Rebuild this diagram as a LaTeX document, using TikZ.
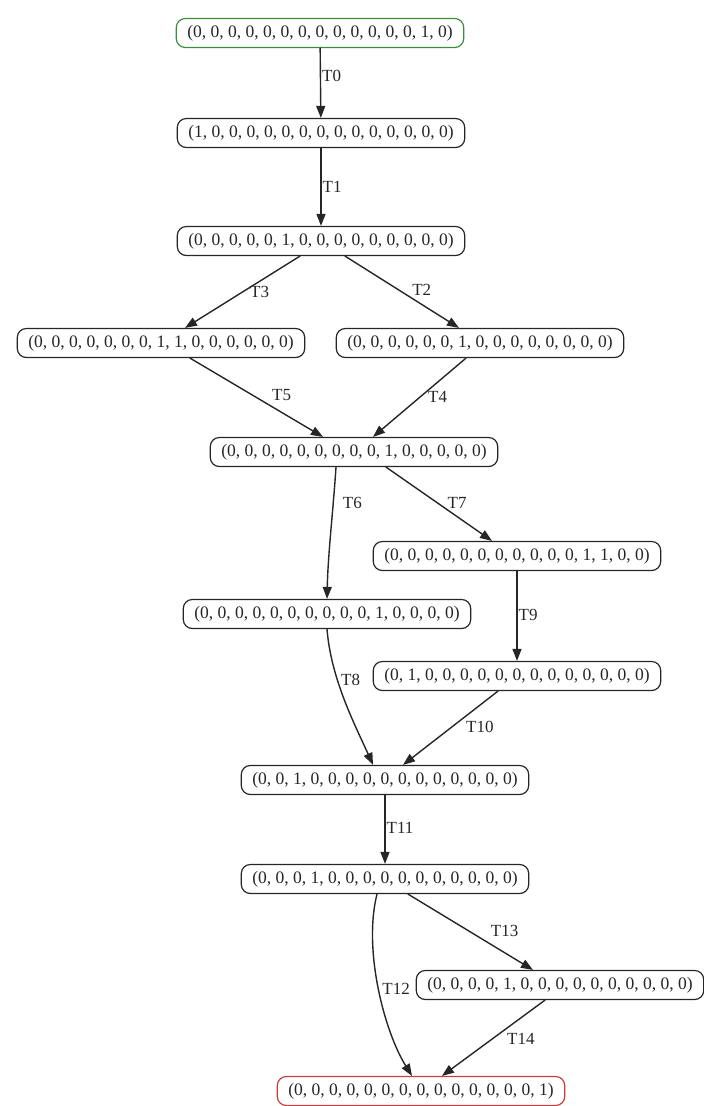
\documentclass[tikz,border=0pt]{standalone}
\usepackage{fontspec}
\setmainfont{Liberation Serif}
\usetikzlibrary{arrows.meta}

\begin{document}
\begin{tikzpicture}[x=1pt, y=-1pt, >={Triangle[length=12pt,width=9pt]}, line cap=round,
  state/.style={draw=black!85, line width=1.2pt, rounded corners=9pt, minimum height=29pt,
                inner xsep=11pt, text=black!85, font=\fontsize{17.5}{20}\selectfont},
  edge/.style={->, line width=1.4pt, black!85},
  lbl/.style={anchor=west, inner sep=1pt, text=black!85, font=\fontsize{17}{20}\selectfont}]
  \definecolor{startgreen}{HTML}{3C8C3C}
  \definecolor{endred}{HTML}{C83C3C}
  \useasboundingbox (0,0) rectangle (704,1106);
  % markings
  \node[state, draw=startgreen] (m0)  at (320,33)  {(0, 0, 0, 0, 0, 0, 0, 0, 0, 0, 0, 0, 0, 1, 0)};
  \node[state] (m1)  at (321,133) {(1, 0, 0, 0, 0, 0, 0, 0, 0, 0, 0, 0, 0, 0, 0)};
  \node[state] (m2)  at (321,241) {(0, 0, 0, 0, 0, 1, 0, 0, 0, 0, 0, 0, 0, 0, 0)};
  \node[state] (m3)  at (161,343) {(0, 0, 0, 0, 0, 0, 0, 1, 1, 0, 0, 0, 0, 0, 0)};
  \node[state] (m4)  at (480,343) {(0, 0, 0, 0, 0, 0, 1, 0, 0, 0, 0, 0, 0, 0, 0)};
  \node[state] (m5)  at (354,452) {(0, 0, 0, 0, 0, 0, 0, 0, 0, 1, 0, 0, 0, 0, 0)};
  \node[state] (m6)  at (517,556) {(0, 0, 0, 0, 0, 0, 0, 0, 0, 0, 0, 1, 1, 0, 0)};
  \node[state] (m7)  at (327,614) {(0, 0, 0, 0, 0, 0, 0, 0, 0, 0, 1, 0, 0, 0, 0)};
  \node[state] (m8)  at (517,676) {(0, 1, 0, 0, 0, 0, 0, 0, 0, 0, 0, 0, 0, 0, 0)};
  \node[state] (m9)  at (385,780) {(0, 0, 1, 0, 0, 0, 0, 0, 0, 0, 0, 0, 0, 0, 0)};
  \node[state] (m10) at (385,879) {(0, 0, 0, 1, 0, 0, 0, 0, 0, 0, 0, 0, 0, 0, 0)};
  \node[state] (m11) at (560,985) {(0, 0, 0, 0, 1, 0, 0, 0, 0, 0, 0, 0, 0, 0, 0)};
  \node[state, draw=endred] (m12) at (421,1091) {(0, 0, 0, 0, 0, 0, 0, 0, 0, 0, 0, 0, 0, 0, 1)};
  % transitions
  \draw[edge] (m0) -- (m1) node[lbl, pos=0.4] {T0};
  \draw[edge] (m1) -- (m2) node[lbl, pos=0.5] {T1};
  \draw[edge] ([xshift=-21pt]m2.south) -- ([xshift=24pt]m3.north) node[lbl, pos=0.5, xshift=6pt] {T3};
  \draw[edge] ([xshift=24pt]m2.south) -- ([xshift=-21pt]m4.north) node[lbl, pos=0.47, xshift=12pt] {T2};
  \draw[edge] ([xshift=29pt]m3.south) -- ([xshift=-31pt]m5.north) node[lbl, pos=0.47, xshift=18pt] {T5};
  \draw[edge] ([xshift=-14pt]m4.south) -- ([xshift=19pt]m5.north) node[lbl, pos=0.49, xshift=6pt] {T4};
  \draw[edge] ([xshift=-18pt]m5.south) .. controls +(-3,45) and +(1,-45) .. (m7.north) node[lbl, pos=0.27, xshift=8pt] {T6};
  \draw[edge] ([xshift=32pt]m5.south) -- ([xshift=-25pt]m6.north) node[lbl, pos=0.49, xshift=8pt] {T7};
  \draw[edge] (m6) -- (m8) node[lbl, pos=0.49] {T9};
  \draw[edge] (m7.south) .. controls +(4,50) and +(-18,-40) .. ([xshift=-12pt]m9.north) node[lbl, pos=0.35, xshift=2pt] {T8};
  \draw[edge] ([xshift=-19pt]m8.south) -- ([xshift=18pt]m9.north) node[lbl, pos=0.49, xshift=13pt] {T10};
  \draw[edge] (m9) -- (m10) node[lbl, pos=0.47] {T11};
  \draw[edge] ([xshift=23pt]m10.south) -- ([xshift=-27pt]m11.north) node[lbl, pos=0.49, xshift=20pt] {T13};
  \draw[edge] ([xshift=-8pt]m10.south) .. controls +(-14,55) and +(-28,-45) .. ([xshift=-9pt]m12.north) node[lbl, pos=0.5, xshift=2pt] {T12};
  \draw[edge] ([xshift=-15pt]m11.south) -- ([xshift=21pt]m12.north) node[lbl, pos=0.51, xshift=13pt] {T14};
\end{tikzpicture}
\end{document}
